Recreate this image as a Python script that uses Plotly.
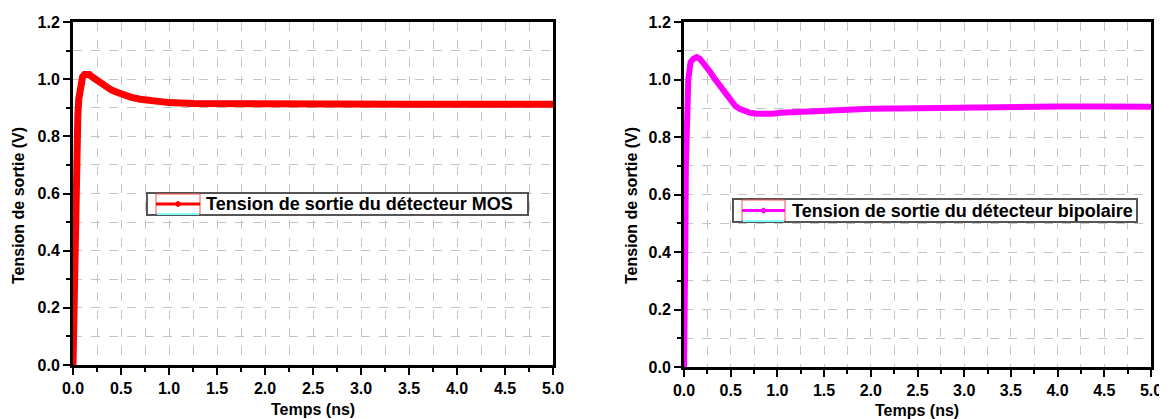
import plotly.graph_objects as go

# MOS detector output (time in ns, voltage in V)
t_mos = [0.0, 0.005, 0.01, 0.02, 0.03, 0.04, 0.05, 0.06, 0.07, 0.08, 0.10, 0.12, 0.145,
         0.17, 0.2, 0.25, 0.3, 0.35, 0.4, 0.45, 0.5, 0.55, 0.6, 0.7, 0.8, 0.9, 1.0,
         1.25, 1.5, 2.0, 2.5, 3.0, 3.5, 4.0, 4.5, 5.0]
v_mos = [0.0, 0.10, 0.30, 0.50, 0.65, 0.78, 0.87, 0.93, 0.965, 0.99, 1.008, 1.016, 1.018,
         1.016, 1.008, 0.995, 0.982, 0.970, 0.962, 0.955, 0.948, 0.942, 0.937, 0.930,
         0.925, 0.921, 0.918, 0.915, 0.914, 0.913, 0.912, 0.912, 0.912, 0.912, 0.912, 0.912]

# Bipolar detector output
t_bip = [0.0, 0.008, 0.015, 0.02, 0.03, 0.046, 0.07, 0.10, 0.136, 0.17, 0.2, 0.24, 0.28,
         0.33, 0.386, 0.44, 0.49, 0.55, 0.6, 0.65, 0.707, 0.78, 0.85, 0.95, 1.03, 1.28,
         1.64, 2.0, 2.5, 3.0, 3.5, 4.0, 4.5, 5.0]
v_bip = [0.0, 0.15, 0.45, 0.70, 0.85, 1.00, 1.06, 1.072, 1.078, 1.072, 1.06, 1.045, 1.026,
         1.002, 0.977, 0.952, 0.929, 0.908, 0.897, 0.889, 0.884, 0.881, 0.880, 0.881,
         0.884, 0.888, 0.894, 0.898, 0.900, 0.903, 0.906, 0.906, 0.906, 0.905]

label_mos = "Tension de sortie du détecteur MOS"
label_bip = "Tension de sortie du détecteur bipolaire"
x_title = "Temps (ns)"
y_title = "Tension de sortie (V)"

FONT = "Liberation Sans, Arial, sans-serif"
W, H = 1167, 419
OFF = 8  # page body margin offset of the plot div


def px_x(p):
    return (p - OFF) / W


def px_y(p):
    return 1 - (p - OFF) / H


TICKFONT = dict(family=FONT, size=16, color="black", weight="bold")
TITLEFONT = dict(family=FONT, size=16, color="black", weight="bold")
LEGFONT = dict(family=FONT, size=18, color="black", weight="bold")

fig = go.Figure()
fig.add_trace(go.Scatter(x=t_mos, y=v_mos, mode="lines", name=label_mos,
                         line=dict(color="#ff0000", width=7), xaxis="x", yaxis="y",
                         showlegend=False))
fig.add_trace(go.Scatter(x=t_bip, y=v_bip, mode="lines", name=label_bip,
                         line=dict(color="#ff00ff", width=6), xaxis="x2", yaxis="y2",
                         showlegend=False))


def xaxis(domain, anchor):
    return dict(domain=domain, anchor=anchor, range=[0, 5], dtick=0.5, tick0=0,
                tickformat=".1f", showline=True, linecolor="black", linewidth=3,
                mirror=True, ticks="outside", ticklen=7, tickwidth=2, tickcolor="black",
                tickfont=TICKFONT, automargin=False,
                showgrid=True, gridcolor="#c4c4c4", griddash="dash", gridwidth=1,
                zeroline=False,
                minor=dict(dtick=0.25, ticks="outside", ticklen=4, tickwidth=2,
                           tickcolor="black", showgrid=True, gridcolor="#c4c4c4",
                           griddash="dash", gridwidth=1))


def yaxis(domain, anchor):
    return dict(domain=domain, anchor=anchor, range=[0, 1.2], dtick=0.2, tick0=0,
                tickformat=".1f", showline=True, linecolor="black", linewidth=3,
                mirror=True, ticks="outside", ticklen=7, tickwidth=2, tickcolor="black",
                tickfont=TICKFONT, automargin=False,
                showgrid=True, gridcolor="#c4c4c4", griddash="dash", gridwidth=1,
                zeroline=False,
                minor=dict(dtick=0.1, ticks="outside", ticklen=4, tickwidth=2,
                           tickcolor="black", showgrid=True, gridcolor="#c4c4c4",
                           griddash="dash", gridwidth=1))


def legend_parts(x0, x1, y0, y1, sx0, sx1, tx, color, text):
    ym = (y0 + y1) / 2
    shapes = [
        dict(type="rect", xref="paper", yref="paper", x0=px_x(x0), x1=px_x(x1),
             y0=px_y(y1), y1=px_y(y0), line=dict(color="#555555", width=2),
             fillcolor="white", layer="above"),
        dict(type="rect", xref="paper", yref="paper", x0=px_x(sx0), x1=px_x(sx1),
             y0=px_y(y1 - 1), y1=px_y(y0 + 1), line=dict(color="#ff5050", width=1),
             fillcolor="rgba(0,0,0,0)", layer="above"),
        dict(type="line", xref="paper", yref="paper", x0=px_x(sx0 + 1), x1=px_x(sx1 - 1),
             y0=px_y(y1 - 1), y1=px_y(y1 - 1), line=dict(color="#80ffff", width=2),
             layer="above"),
        dict(type="line", xref="paper", yref="paper", x0=px_x(sx0), x1=px_x(sx1),
             y0=px_y(ym), y1=px_y(ym), line=dict(color=color, width=3), layer="above"),
        dict(type="circle", xref="paper", yref="paper",
             x0=px_x((sx0 + sx1) / 2 - 2), x1=px_x((sx0 + sx1) / 2 + 2),
             y0=px_y(ym + 2.5), y1=px_y(ym - 2.5), line=dict(color=color, width=1),
             fillcolor=color, layer="above"),
    ]
    ann = dict(text=text, x=px_x(tx), y=px_y(ym), xref="paper", yref="paper",
               xanchor="left", yanchor="middle", showarrow=False, font=LEGFONT)
    return shapes, ann


sh1, an1 = legend_parts(147, 528, 193, 215, 156, 200, 204, "#ff0000", label_mos)
sh2, an2 = legend_parts(733, 1137, 199, 222, 742, 785, 790, "#ff00ff", label_bip)

fig.update_layout(
    width=W, height=H, autosize=False,
    margin=dict(l=0, r=0, t=0, b=0, pad=0, autoexpand=False),
    paper_bgcolor="white", plot_bgcolor="white",
    showlegend=False,
    xaxis=xaxis([px_x(73), px_x(553)], "y"),
    yaxis=yaxis([px_y(365), px_y(22)], "x"),
    xaxis2=xaxis([px_x(684), px_x(1151)], "y2"),
    yaxis2=yaxis([px_y(367), px_y(22)], "x2"),
    shapes=sh1 + sh2,
    annotations=[
        an1, an2,
        dict(text=x_title, x=px_x(313), y=px_y(409), xref="paper", yref="paper",
             xanchor="center", yanchor="middle", showarrow=False, font=TITLEFONT),
        dict(text=x_title, x=px_x(917), y=px_y(410), xref="paper", yref="paper",
             xanchor="center", yanchor="middle", showarrow=False, font=TITLEFONT),
        dict(text=y_title, x=px_x(18), y=px_y(206), xref="paper", yref="paper",
             xanchor="center", yanchor="middle",
             textangle=-90, showarrow=False, font=TITLEFONT),
        dict(text=y_title, x=px_x(631), y=px_y(206), xref="paper", yref="paper",
             xanchor="center", yanchor="middle",
             textangle=-90, showarrow=False, font=TITLEFONT),
    ],
)

fig.write_html("out.html")
